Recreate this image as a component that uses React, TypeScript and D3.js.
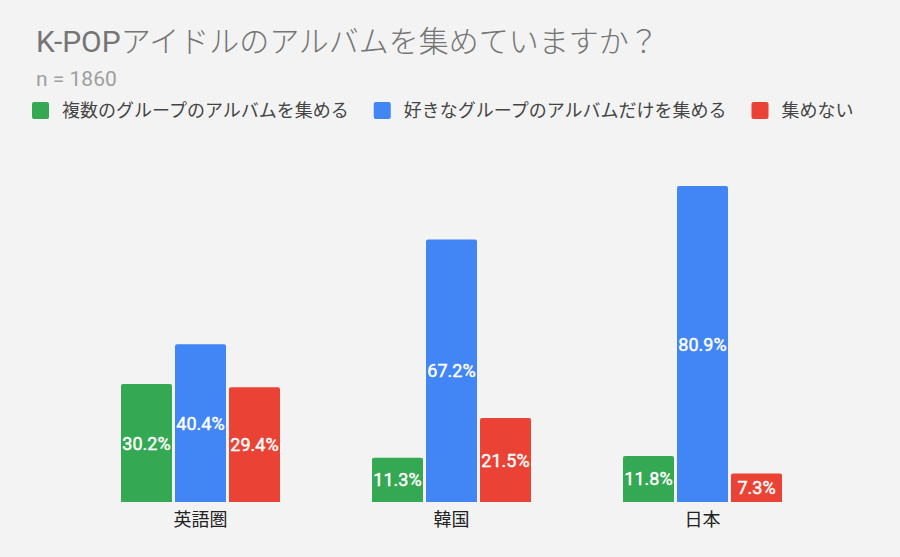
import { useEffect, useRef } from "react"
import * as d3 from "d3"

const categories = ["英語圏", "韓国", "日本"]
const seriesNames = ["複数のグループのアルバムを集める", "好きなグループのアルバムだけを集める", "集めない"]
const seriesColors = ["#34a853", "#4285f4", "#ea4335"]
const multipleGroups = [30.2, 11.3, 11.8]
const favoriteOnly = [40.4, 67.2, 80.9]
const notCollecting = [29.4, 21.5, 7.3]

const titleLatin = "K-POP"
const titleRest = "アイドルのアルバムを集めていますか？"
const subtitleText = "n = 1860"

const FONT = "Roboto, 'Noto Sans CJK JP', sans-serif"

export default function App() {
  const svgRef = useRef<SVGSVGElement>(null)

  useEffect(() => {
    if (!svgRef.current) return
    const svg = d3.select(svgRef.current)
    svg.selectAll("*").remove()

    const width = 900
    const height = 557
    const baseline = 502

    svg.append("rect").attr("width", width).attr("height", height).attr("fill", "#f3f3f3")

    // Title and subtitle
    const title = svg
      .append("text")
      .attr("x", 36)
      .attr("y", 52)
      .attr("font-family", FONT)
      .attr("font-size", 30)
      .attr("fill", "#757575")
    title.append("tspan").text(titleLatin)
    title.append("tspan").attr("font-weight", 300).text(titleRest)

    svg
      .append("text")
      .attr("x", 36)
      .attr("y", 86)
      .attr("font-family", FONT)
      .attr("font-size", 21)
      .attr("fill", "#9e9e9e")
      .text(subtitleText)

    // Legend
    const legend = svg.append("g")
    let lx = 32
    seriesNames.forEach((name, i) => {
      legend
        .append("rect")
        .attr("x", lx)
        .attr("y", 102)
        .attr("width", 17)
        .attr("height", 17)
        .attr("rx", 2)
        .attr("fill", seriesColors[i])
      const t = legend
        .append("text")
        .attr("x", lx + 30)
        .attr("y", 110.5)
        .attr("dominant-baseline", "central")
        .attr("font-family", FONT)
        .attr("font-size", 18)
        .attr("fill", "#444444")
        .text(name)
      const w = (t.node() as SVGTextElement).getComputedTextLength()
      lx = lx + 30 + w + 25
    })

    // Scales
    const x0 = d3.scaleBand().domain(categories).range([75, 828])
    const x1 = d3.scaleBand().domain(seriesNames).range([-79.5, 79.5]).paddingInner(3 / 54)
    const y = d3.scaleLinear().domain([0, 100]).range([baseline, baseline - 390.6])

    const values = [multipleGroups, favoriteOnly, notCollecting]

    const barPath = (bx: number, by: number, bw: number, bh: number) => {
      const r = Math.min(2, bh / 2)
      return `M${bx},${by + bh}V${by + r}Q${bx},${by} ${bx + r},${by}H${bx + bw - r}Q${bx + bw},${by} ${bx + bw},${by + r}V${by + bh}Z`
    }

    categories.forEach((cat, ci) => {
      const cx = (x0(cat) as number) + x0.bandwidth() / 2
      const g = svg.append("g").attr("transform", `translate(${cx},0)`)
      seriesNames.forEach((s, si) => {
        const v = values[si][ci]
        const bx = x1(s) as number
        const bw = x1.bandwidth()
        const top = y(v)
        g.append("path").attr("d", barPath(bx, top, bw, baseline - top)).attr("fill", seriesColors[si])
        g.append("text")
          .attr("x", bx + bw / 2)
          .attr("y", (top + baseline) / 2)
          .attr("text-anchor", "middle")
          .attr("dominant-baseline", "central")
          .attr("font-family", FONT)
          .attr("font-size", 18)
          .attr("fill", "#ffffff")
          .attr("stroke", "#ffffff")
          .attr("stroke-width", 0.45)
          .text(`${v.toFixed(1)}%`)
      })
      g.append("text")
        .attr("x", 0)
        .attr("y", 519)
        .attr("text-anchor", "middle")
        .attr("dominant-baseline", "central")
        .attr("font-family", FONT)
        .attr("font-size", 18)
        .attr("fill", "#222222")
        .text(cat)
    })
  }, [])

  return (
    <svg
      ref={svgRef}
      width={900}
      height={557}
      style={{ position: "absolute", left: 0, top: 0, display: "block" }}
    ></svg>
  )
}
